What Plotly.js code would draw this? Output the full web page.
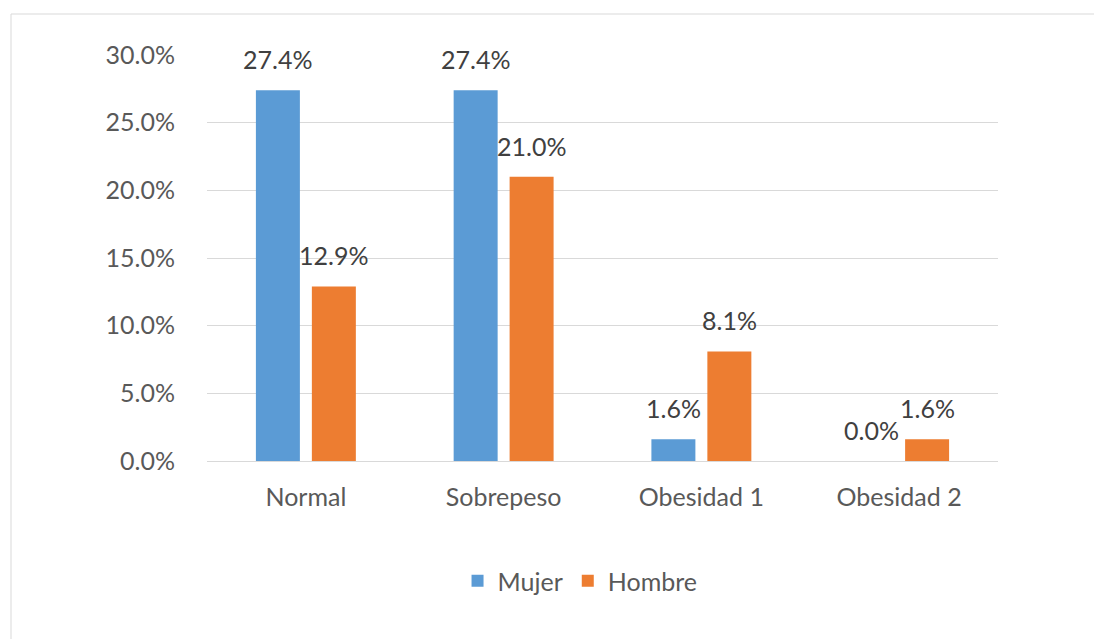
<!DOCTYPE html>
<html>
<head>
<meta charset="utf-8">
<script src="https://cdn.plot.ly/plotly-3.0.1.min.js"></script>
<style>
  html, body { margin: 0; padding: 0; background: #fff; }
  #chart { width: 1094px; height: 639px; }
</style>
</head>
<body>
<div id="chart"></div>
<script>
const categories = ["Normal", "Sobrepeso", "Obesidad 1", "Obesidad 2"];
const mujer = [27.4, 27.4, 1.6, 0.0];
const hombre = [12.9, 21.0, 8.1, 1.6];
const seriesNames = ["Mujer", "Hombre"];
const yTicks = [0, 5, 10, 15, 20, 25, 30];

const FONT = "Lato, 'Open Sans', sans-serif";
const colors = ["#5B9BD5", "#ED7D31"];

const traces = [mujer, hombre].map((vals, i) => ({
  type: "bar",
  name: seriesNames[i],
  x: categories,
  y: vals,
  marker: { color: colors[i] },
  hoverinfo: "x+y"
}));

const annotations = [];
[mujer, hombre].forEach((vals, i) => {
  vals.forEach((v, j) => {
    annotations.push({
      xref: "x", yref: "y",
      x: categories[j], y: v,
      xshift: i === 0 ? -28 : 28,
      yshift: 14,
      yanchor: "bottom",
      showarrow: false,
      text: v.toFixed(1) + "%",
      font: { family: FONT, size: 25, color: "#404040" }
    });
  });
});

const layout = {
  width: 1094, height: 639,
  margin: { l: 207, r: 96, t: 55, b: 178 },
  paper_bgcolor: "#fff",
  plot_bgcolor: "#fff",
  font: { family: FONT, size: 25, color: "#595959" },
  barmode: "group",
  bargap: 0.434,
  bargroupgap: 0.214,
  showlegend: true,
  legend: {
    orientation: "h",
    x: 0.4716, xanchor: "center",
    y: -0.2956, yanchor: "middle",
    font: { family: FONT, size: 25, color: "#595959" },
    itemclick: false
  },
  xaxis: {
    type: "category",
    showgrid: false,
    showline: true, linecolor: "#D9D9D9", linewidth: 1,
    ticks: "outside", ticklen: 14, tickcolor: "rgba(0,0,0,0)",
    tickfont: { family: FONT, size: 25, color: "#595959" },
    fixedrange: true
  },
  yaxis: {
    range: [0, 30],
    tickvals: yTicks,
    ticktext: yTicks.map(t => t.toFixed(1) + "%"),
    showgrid: true, gridcolor: "#D9D9D9", gridwidth: 1,
    zeroline: false,
    showline: false,
    ticks: "outside", ticklen: 26, tickcolor: "rgba(0,0,0,0)",
    tickfont: { family: FONT, size: 25, color: "#595959" },
    fixedrange: true
  },
  annotations: annotations,
  shapes: [{
    type: "rect", xref: "paper", yref: "paper",
    x0: (11 - 207) / 791, x1: 1.3,
    y0: -0.6, y1: 1 + (55 - 14) / 406,
    line: { color: "#D9D9D9", width: 1 },
    fillcolor: "rgba(0,0,0,0)",
    layer: "below"
  }]
};

Plotly.newPlot("chart", traces, layout, { displayModeBar: false, staticPlot: true });
</script>
</body>
</html>
